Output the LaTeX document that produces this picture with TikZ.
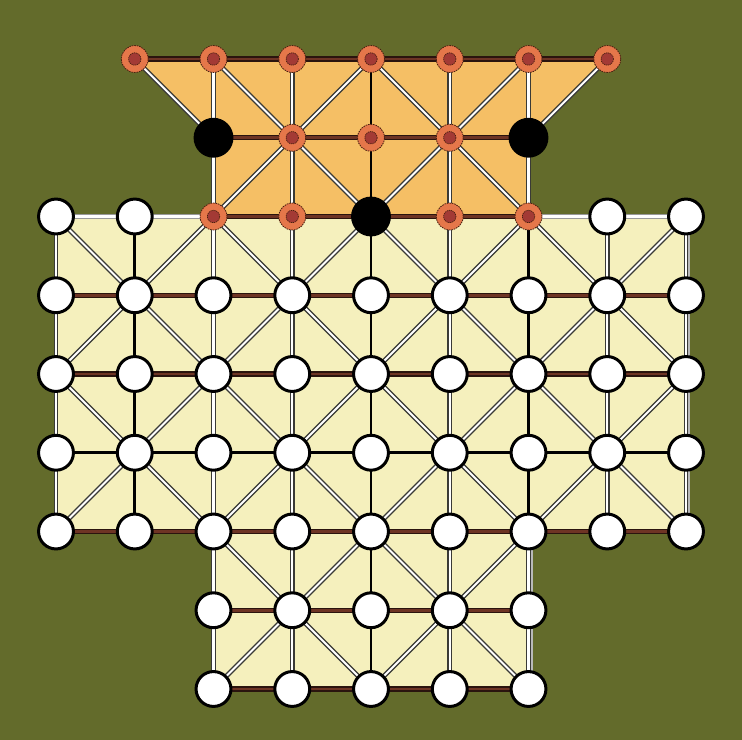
\documentclass[tikz,border=0pt]{standalone}
\definecolor{bgolive}{HTML}{636B2B}
\definecolor{boardorange}{HTML}{F5BF65}
\definecolor{boardcream}{HTML}{F5F0BD}
\definecolor{linedark}{HTML}{2A140E}
\definecolor{linebrown}{HTML}{6E3424}
\definecolor{linegray}{HTML}{3A3A36}
\definecolor{piecedark}{HTML}{4A2010}
\definecolor{pieceorange}{HTML}{E5774A}
\definecolor{piecered}{HTML}{A33A35}
\tikzset{
  bline/.style={draw=linedark, line width=1.3, double=linebrown, double distance=2.8},
  wline/.style={draw=linegray, line width=1.3, double=white, double distance=2.1},
  lline/.style={draw=gray!80, line width=1.1, double=white, double distance=2.4},
  kline/.style={draw=black, line width=2.8},
  wpiece/.style={circle, inner sep=0pt, minimum size=35, fill=white, draw=black, line width=3},
  kpiece/.style={circle, inner sep=0pt, minimum size=40, fill=black},
  opiece/.style={circle, inner sep=0pt, minimum size=27, fill=pieceorange, draw=piecedark,
    line width=0.8, dash pattern=on 1.6 off 0.9,
    path picture={\fill[piecered] (path picture bounding box.center) circle (6.2);
      \draw[piecedark, line width=0.7, dash pattern=on 1.2 off 0.8] (path picture bounding box.center) circle (6.2);}}
}
\begin{document}
\begin{tikzpicture}[x=1bp,y=-1bp]
\fill[bgolive] (0,0) rectangle (742,740);
\useasboundingbox (0,0) rectangle (742,740);
\foreach \i in {0,...,8}{\foreach \j in {0,...,8}{
  \coordinate (c-\i-\j) at ({56+78.75*\i},{59+78.75*\j});}}
% board regions
\fill[boardorange] (c-1-0) -- (c-7-0) -- (c-6-1) -- (c-6-2) -- (c-2-2) -- (c-2-1) -- cycle;
\fill[boardcream] (c-0-2) -- (c-8-2) -- (c-8-6) -- (c-6-6) -- (c-6-8) -- (c-2-8) -- (c-2-6) -- (c-0-6) -- cycle;
\draw[gray!55, line width=2.5] ([xshift=3]c-8-2) -- ([xshift=3]c-8-6);
\draw[gray!55, line width=2.5] ([xshift=3]c-6-6) -- ([xshift=3]c-6-8);
% diagonals
\foreach \i/\j in {2/0,4/0,3/1,5/1, 0/2,2/2,4/2,6/2, 1/3,3/3,5/3,7/3, 0/4,2/4,4/4,6/4, 1/5,3/5,5/5,7/5, 2/6,4/6,3/7,5/7}{
  \pgfmathtruncatemacro\ii{\i+1}\pgfmathtruncatemacro\jj{\j+1}
  \draw[wline] (c-\i-\j) -- (c-\ii-\jj);}
\foreach \i/\j in {4/0,6/0,3/1,5/1, 2/2,4/2,6/2,8/2, 1/3,3/3,5/3,7/3, 2/4,4/4,6/4,8/4, 1/5,3/5,5/5,7/5, 4/6,6/6,3/7,5/7}{
  \pgfmathtruncatemacro\ii{\i-1}\pgfmathtruncatemacro\jj{\j+1}
  \draw[wline] (c-\i-\j) -- (c-\ii-\jj);}
\draw[wline] (c-1-0) -- (c-2-1);
\draw[wline] (c-7-0) -- (c-6-1);
% verticals
\foreach \i in {0,7,8}{\foreach \j in {2,...,5}{
  \pgfmathtruncatemacro\jj{\j+1}\draw[wline] (c-\i-\j) -- (c-\i-\jj);}}
\foreach \j in {2,...,5}{
  \pgfmathtruncatemacro\jj{\j+1}\draw[kline] (c-1-\j) -- (c-1-\jj);}
\foreach \i in {2,3,5}{\foreach \j in {0,...,7}{
  \pgfmathtruncatemacro\jj{\j+1}\draw[wline] (c-\i-\j) -- (c-\i-\jj);}}
\foreach \j in {0,...,7}{
  \pgfmathtruncatemacro\jj{\j+1}\draw[kline] (c-4-\j) -- (c-4-\jj);}
\foreach \j in {0,1,6,7}{
  \pgfmathtruncatemacro\jj{\j+1}\draw[wline] (c-6-\j) -- (c-6-\jj);}
\foreach \j in {2,...,5}{
  \pgfmathtruncatemacro\jj{\j+1}\draw[kline] (c-6-\j) -- (c-6-\jj);}
% horizontals
\foreach \i in {1,...,6}{\pgfmathtruncatemacro\ii{\i+1}\draw[bline] (c-\i-0) -- (c-\ii-0);}
\foreach \i in {2,...,5}{\pgfmathtruncatemacro\ii{\i+1}\draw[bline] (c-\i-1) -- (c-\ii-1);}
\foreach \i in {0,1,6,7}{\pgfmathtruncatemacro\ii{\i+1}\draw[lline] (c-\i-2) -- (c-\ii-2);}
\foreach \i in {2,...,5}{\pgfmathtruncatemacro\ii{\i+1}\draw[bline] (c-\i-2) -- (c-\ii-2);}
\foreach \j in {3,4,6}{\foreach \i in {0,...,7}{
  \pgfmathtruncatemacro\ii{\i+1}\draw[bline] (c-\i-\j) -- (c-\ii-\j);}}
\foreach \i in {0,...,7}{\pgfmathtruncatemacro\ii{\i+1}\draw[kline] (c-\i-5) -- (c-\ii-5);}
\foreach \j in {7,8}{\foreach \i in {2,...,5}{
  \pgfmathtruncatemacro\ii{\i+1}\draw[bline] (c-\i-\j) -- (c-\ii-\j);}}
% pieces
\foreach \i/\j in {1/0,2/0,3/0,4/0,5/0,6/0,7/0, 3/1,4/1,5/1, 2/2,3/2,5/2,6/2}{
  \node[opiece] (p-\i-\j) at (c-\i-\j) {};}
\foreach \i/\j in {2/1,6/1,4/2}{
  \node[kpiece] (p-\i-\j) at (c-\i-\j) {};}
\foreach \i/\j in {0/2,1/2,7/2,8/2}{
  \node[wpiece] (p-\i-\j) at (c-\i-\j) {};}
\foreach \j in {3,...,6}{\foreach \i in {0,...,8}{
  \node[wpiece] (p-\i-\j) at (c-\i-\j) {};}}
\foreach \j in {7,8}{\foreach \i in {2,...,6}{
  \node[wpiece] (p-\i-\j) at (c-\i-\j) {};}}
\end{tikzpicture}
\end{document}
